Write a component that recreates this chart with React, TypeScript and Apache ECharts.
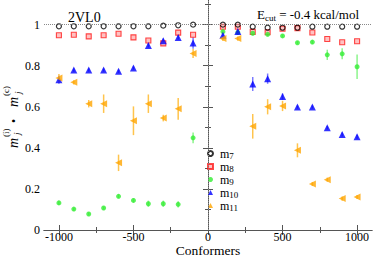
import React, { useEffect, useRef } from "react";
import * as echarts from "echarts";

const conformers = [-1000, -900, -800, -700, -600, -500, -400, -300, -200, -100, 100, 200, 300, 400, 500, 600, 700, 800, 900, 1000];
const m7 = [0.992, 0.992, 0.992, 0.992, 0.992, 0.992, 0.992, 0.995, 0.997, 1.0, 1.0, 1.0, 0.99, 0.985, 0.985, 0.985, 0.99, 0.99, 0.99, 0.99];
const m8 = [0.948, 0.951, 0.943, 0.948, 0.956, 0.938, 0.923, 0.909, 0.961, 0.951, 0.99, 0.99, 0.965, 0.963, 0.98, 0.983, 0.962, 0.93, 0.914, 0.919];
const m9 = [0.132, 0.102, 0.078, 0.107, 0.164, 0.144, 0.128, 0.128, 0.125, 0.449, 0.966, 0.962, 0.958, 0.953, 0.945, 0.912, 0.915, 0.853, 0.858, 0.795];
const m10 = [0.732, 0.779, 0.779, 0.779, 0.773, 0.789, 0.899, 0.922, 0.938, 0.911, 0.948, 0.967, 0.711, 0.737, 0.65, 0.599, 0.599, 0.498, 0.465, 0.454];
const m11 = [0.74, 0.719, 0.615, 0.615, 0.327, 0.532, 0.615, 0.545, 0.59, 0.859, 0.932, 0.932, 0.505, 0.6, 0.604, 0.388, 0.224, 0.245, 0.153, 0.161];
const e9 = [0.01, 0.008, 0.008, 0.008, 0.01, 0.01, 0.015, 0.015, 0.015, 0.026, 0.01, 0.01, 0.01, 0.01, 0.008, 0.008, 0.01, 0.025, 0.027, 0.06];
const e10 = [0.02, 0.008, 0.008, 0.008, 0.008, 0.008, 0.01, 0.01, 0.01, 0.028, 0.01, 0.01, 0.034, 0.025, 0.015, 0.008, 0.008, 0.008, 0.01, 0.01];
const e11 = [0.02, 0.01, 0.018, 0.045, 0.04, 0.07, 0.045, 0.016, 0.053, 0.022, 0.012, 0.01, 0.06, 0.037, 0.025, 0.034, 0.01, 0.01, 0.01, 0.01];

const xMajor = [-1000, -500, 0, 500, 1000];
const xMinor = [-750, -250, 250, 750];
const yMajor = [0, 0.2, 0.4, 0.6, 0.8, 1];
const yMinor = [0.1, 0.3, 0.5, 0.7, 0.9, 1.1];

const FONT = "Liberation Serif";
const AXIS_COLOR = "#555";

function App() {
  const ref = useRef<HTMLDivElement>(null);
  useEffect(() => {
    if (!ref.current) return;
    const chart = echarts.init(ref.current, null, { renderer: "svg" });

    const pts = (ys: number[]) => conformers.map((x, i) => [x, ys[i]]);
    const errs = (ys: number[], es: number[]) => conformers.map((x, i) => [x, ys[i], es[i]]);

    const errSeries = (name: string, ys: number[], es: number[], color: string) => ({
      type: "custom",
      name,
      xAxisIndex: 0,
      yAxisIndex: 0,
      z: 1,
      silent: true,
      data: errs(ys, es),
      renderItem: (params: any, api: any) => {
        const x = api.value(0);
        const y = api.value(1);
        const e = api.value(2);
        const p1 = api.coord([x, y - e]);
        const p2 = api.coord([x, y + e]);
        return {
          type: "line",
          shape: { x1: p1[0], y1: p1[1], x2: p2[0], y2: p2[1] },
          style: { stroke: color, lineWidth: 1.5 },
        };
      },
    });

    const labelStyle = (margin: number, size: number) => ({
      show: true,
      fontSize: size,
      fontFamily: FONT,
      color: "#000",
      margin,
      formatter: (v: number) => String(v),
    });

    const xAxisBase = (position: string, values: number[], len: number, labels: boolean, line: boolean) => ({
      type: "value",
      min: -1100,
      max: 1100,
      position,
      axisLine: { show: line, lineStyle: { color: AXIS_COLOR, width: 1 } },
      axisTick: { show: true, inside: true, length: len, customValues: values, lineStyle: { color: AXIS_COLOR } },
      axisLabel: labels ? { ...labelStyle(1, 12), lineHeight: 12, customValues: values } : { show: false },
      splitLine: { show: false },
    });
    const yAxisBase = (position: string, values: number[], len: number, labels: boolean, line: boolean) => ({
      type: "value",
      min: 0,
      max: 1.12,
      position,
      axisLine: { show: line, lineStyle: { color: AXIS_COLOR, width: 1 } },
      axisTick: { show: true, inside: true, length: len, customValues: values, lineStyle: { color: AXIS_COLOR } },
      axisLabel: labels ? { ...labelStyle(4, 12), customValues: values } : { show: false },
      splitLine: { show: false },
    });

    const rich = {
      a: { fontSize: 12, fontFamily: FONT, color: "#000", lineHeight: 14, verticalAlign: "middle", padding: [0, 0, 0, 2] },
      b: { fontSize: 9, fontFamily: FONT, color: "#000", lineHeight: 8, verticalAlign: "bottom" },
    };

    chart.setOption({
      animation: false,
      textStyle: { fontFamily: FONT },
      grid: { left: 44, right: 2, top: 0, bottom: 26, containLabel: false, outerBoundsMode: "none" },
      xAxis: [
        xAxisBase("bottom", xMajor, 5, true, true),
        xAxisBase("bottom", xMinor, 3, false, false),
        xAxisBase("top", xMajor, 5, false, true),
        xAxisBase("top", xMinor, 3, false, false),
      ],
      yAxis: [
        yAxisBase("left", yMajor, 5, true, true),
        yAxisBase("left", yMinor, 3, false, false),
        yAxisBase("right", yMajor, 5, false, true),
        yAxisBase("right", yMinor, 3, false, false),
      ],
      legend: {
        data: ["m7", "m8", "m9", "m10", "m11"],
        orient: "vertical",
        left: 202,
        top: 142.5,
        itemWidth: 5,
        itemHeight: 5,
        itemGap: 0,
        formatter: (n: string) => `{a|m}{b|${n.slice(1)}}`,
        textStyle: { rich },
      },
      graphic: [
        {
          type: "text",
          x: 208,
          y: 250,
          style: {
            text: "Conformers",
            font: `13.5px ${FONT}`,
            lineHeight: 12,
            fill: "#000",
            textAlign: "center",
            textVerticalAlign: "middle",
          },
        },
        {
          type: "text",
          left: 68,
          top: 10,
          style: { text: "2VL0", font: `14px ${FONT}`, fill: "#000" },
        },
        {
          type: "text",
          x: 257,
          y: 14,
          style: {
            text: "{a|E}{b|cut}{a| = -0.4 kcal/mol}",
            textVerticalAlign: "middle",
            rich: {
              a: { fontSize: 13, fontFamily: FONT, fill: "#000", lineHeight: 16, verticalAlign: "middle" },
              b: { fontSize: 9, fontFamily: FONT, fill: "#000", lineHeight: 9, verticalAlign: "bottom" },
            },
          },
        },
        {
          type: "group",
          x: 13,
          y: 116,
          rotation: Math.PI / 2,
          children: [
            { type: "text", x: -32, y: 0, style: { text: "m", font: `italic 14px ${FONT}`, fill: "#000", textVerticalAlign: "middle" } },
            { type: "text", x: -21, y: -7, style: { text: "(i)", font: `9px ${FONT}`, fill: "#000", textVerticalAlign: "middle" } },
            { type: "text", x: -19, y: 4, style: { text: "j", font: `italic 9px ${FONT}`, fill: "#000", textVerticalAlign: "middle" } },
            { type: "text", x: -7, y: 1, style: { text: "•", font: `12px ${FONT}`, fill: "#000", textVerticalAlign: "middle" } },
            { type: "text", x: 9, y: 0, style: { text: "m", font: `italic 14px ${FONT}`, fill: "#000", textVerticalAlign: "middle" } },
            { type: "text", x: 20, y: -7, style: { text: "(c)", font: `9px ${FONT}`, fill: "#000", textVerticalAlign: "middle" } },
            { type: "text", x: 22, y: 5, style: { text: "j", font: `italic 9px ${FONT}`, fill: "#000", textVerticalAlign: "middle" } },
          ],
        },
      ],
      series: [
        errSeries("e9", m9, e9, "#8cf58c"),
        errSeries("e10", m10, e10, "#7a7aff"),
        errSeries("e11", m11, e11, "#ffc44d"),
        {
          type: "scatter",
          name: "m7",
          z: 3,
          symbol: "circle",
          symbolSize: 5,
          itemStyle: { color: "rgba(255,255,255,0)", borderColor: "#000", borderWidth: 1.2 },
          data: pts(m7),
          markLine: {
            silent: true,
            symbol: "none",
            label: { show: false },
            lineStyle: { type: "dotted", color: "#888", width: 1 },
            data: [{ yAxis: 1 }, { xAxis: 0 }],
          },
        },
        {
          type: "scatter",
          name: "m8",
          z: 2,
          symbol: "rect",
          symbolSize: 5,
          itemStyle: { color: "#ffb3b3", borderColor: "#ff1a1a", borderWidth: 1.1 },
          data: pts(m8),
        },
        {
          type: "scatter",
          name: "m9",
          z: 2,
          symbol: "circle",
          symbolSize: 5,
          itemStyle: { color: "#33ee33" },
          data: pts(m9),
        },
        {
          type: "scatter",
          name: "m10",
          z: 2,
          symbol: "triangle",
          symbolSize: 7,
          itemStyle: { color: "#0000ff" },
          data: pts(m10),
        },
        {
          type: "scatter",
          name: "m11",
          z: 2,
          symbol: "triangle",
          symbolRotate: 90,
          symbolSize: 7,
          itemStyle: { color: "#ffa500" },
          data: pts(m11),
        },
      ],
    });
    return () => chart.dispose();
  }, []);
  return <div ref={ref} style={{ position: "absolute", left: 0, top: 0, width: 374, height: 256 }} />;
}

export default App;
